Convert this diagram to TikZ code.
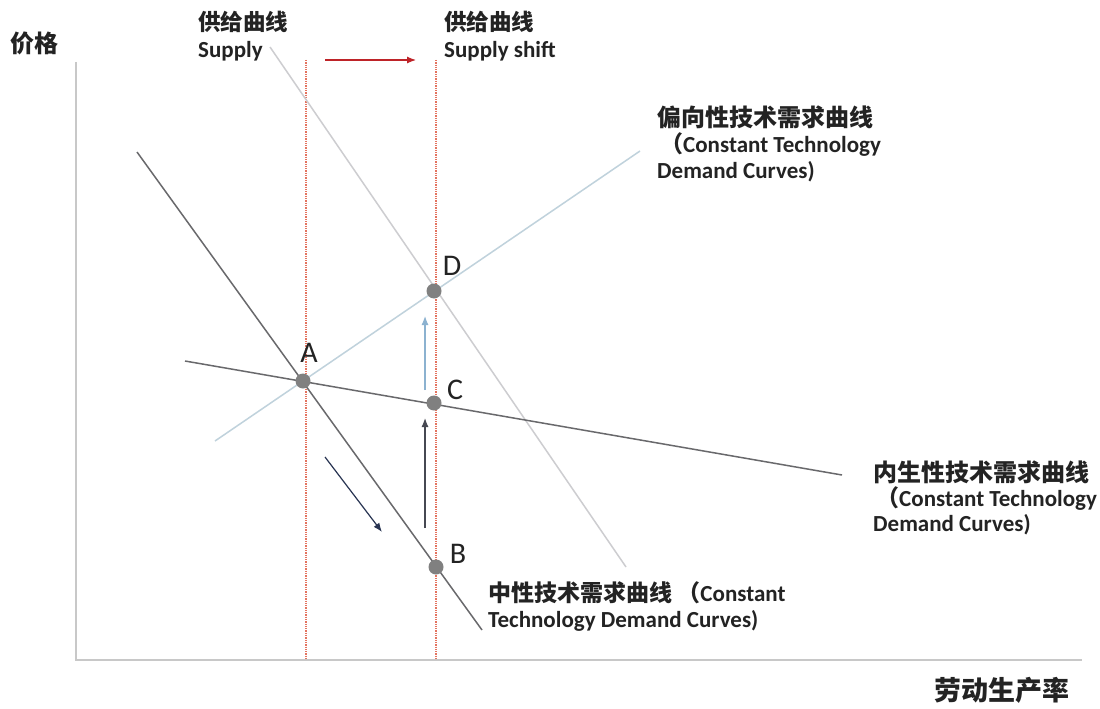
\documentclass[tikz,border=0pt]{standalone}
\usepackage{fontspec}
\setmainfont{Carlito}
\newfontfamily\cjk{Noto Sans CJK SC}
\usetikzlibrary{arrows.meta}
\definecolor{darkln}{RGB}{105,105,108}
\definecolor{supln}{RGB}{205,205,208}
\definecolor{biasln}{RGB}{192,210,220}
\definecolor{dotred}{RGB}{228,115,95}
\definecolor{arrred}{RGB}{190,35,40}
\definecolor{ptgray}{RGB}{128,128,128}
\definecolor{navyarr}{RGB}{40,52,82}
\definecolor{grayarr}{RGB}{70,72,82}
\definecolor{bluearr}{RGB}{140,178,208}
\definecolor{axisln}{RGB}{200,200,200}
\definecolor{txt}{RGB}{35,35,35}
\begin{document}
\begin{tikzpicture}[x=1pt,y=-1pt,
  lbl/.style={anchor=west,inner sep=0pt,text=txt,font=\bfseries\fontsize{23}{29}\selectfont,align=left},
  cjkl/.style={anchor=west,inner sep=0pt,text=txt,font=\cjk\bfseries\fontsize{22.5}{29}\selectfont},
  ptlbl/.style={anchor=center,inner sep=0pt,text=txt,font=\fontsize{30}{30}\selectfont},
  pt/.style={circle,fill=ptgray,inner sep=0pt,minimum size=15pt},
  guide/.style={dotred,densely dotted,line width=1.3pt},
  curve/.style={line width=1.5pt},
  tip/.style={-{Latex[length=9pt,width=7pt]},line width=1.2pt}]
\useasboundingbox[fill=white] (0,0) rectangle (1100,709);
% axes
\coordinate (o) at (76,660);
\coordinate (ytop) at (76,62);
\coordinate (xend) at (1082,660);
\draw[axisln,line width=1.5pt] (ytop) -- (o) -- (xend);
% guides
\coordinate (g1t) at (306,60); \coordinate (g1b) at (306,660);
\coordinate (g2t) at (436,60); \coordinate (g2b) at (436,660);
\draw[guide] (g1t) -- (g1b);
\draw[guide] (g2t) -- (g2b);
% curves
\coordinate (s1) at (270,47); \coordinate (s2) at (626,567);
\draw[supln,curve] (s1) -- (s2);
\coordinate (b1) at (215,441); \coordinate (b2) at (640,151);
\draw[biasln,curve] (b1) -- (b2);
\coordinate (e1) at (185,361); \coordinate (e2) at (842,475);
\draw[darkln,curve] (e1) -- (e2);
\coordinate (n1) at (137,152); \coordinate (n2) at (482,630);
\draw[darkln,curve] (n1) -- (n2);
% arrows
\coordinate (ra1) at (325,60); \coordinate (ra2) at (416,60);
\draw[arrred,tip] (ra1) -- (ra2);
\coordinate (na1) at (325,457); \coordinate (na2) at (382,532);
\draw[navyarr,tip] (na1) -- (na2);
\coordinate (ga1) at (425,528); \coordinate (ga2) at (425,418);
\draw[grayarr,tip] (ga1) -- (ga2);
\coordinate (ba1) at (425,390); \coordinate (ba2) at (425,316);
\draw[bluearr,tip] (ba1) -- (ba2);
% points
\node[pt] (A) at (303,381) {};
\node[pt] (B) at (436,567) {};
\node[pt] (C) at (434,403) {};
\node[pt] (D) at (434,291) {};
\node[ptlbl] (lA) at (309,353) {A};
\node[ptlbl] (lB) at (458,554) {B};
\node[ptlbl] (lC) at (455,390) {C};
\node[ptlbl] (lD) at (452,266) {D};
% texts
\node[cjkl] (price) at (10,43) {\fontsize{24}{24}\selectfont 价格};
\node[cjkl] (qty) at (934,690) {\fontsize{27}{27}\selectfont 劳动生产率};
\node[cjkl] (sup1) at (198,22) {供给曲线};
\node[lbl] (sup2) at (198,51) {Supply};
\node[cjkl] (ss1) at (444,22) {供给曲线};
\node[lbl] (ss2) at (444,51) {Supply shift};
\node[cjkl] (bt1) at (657,117) {\fontsize{24}{24}\selectfont 偏向性技术需求曲线};
\node[lbl] (bt2) at (660,145) {{\cjk （}Constant Technology};
\node[lbl] (bt3) at (657,172) {Demand Curves)};
\node[cjkl] (et1) at (873,472) {\fontsize{24}{24}\selectfont 内生性技术需求曲线};
\node[lbl] (et2) at (876,499) {{\cjk （}Constant Technology};
\node[lbl] (et3) at (873,525) {Demand Curves)};
\node[lbl] (nt1) at (488,593) {{\cjk\fontsize{23}{23}\selectfont 中性技术需求曲线 （}Constant};
\node[lbl] (nt2) at (488,621) {Technology Demand Curves)};
\end{tikzpicture}
\end{document}
